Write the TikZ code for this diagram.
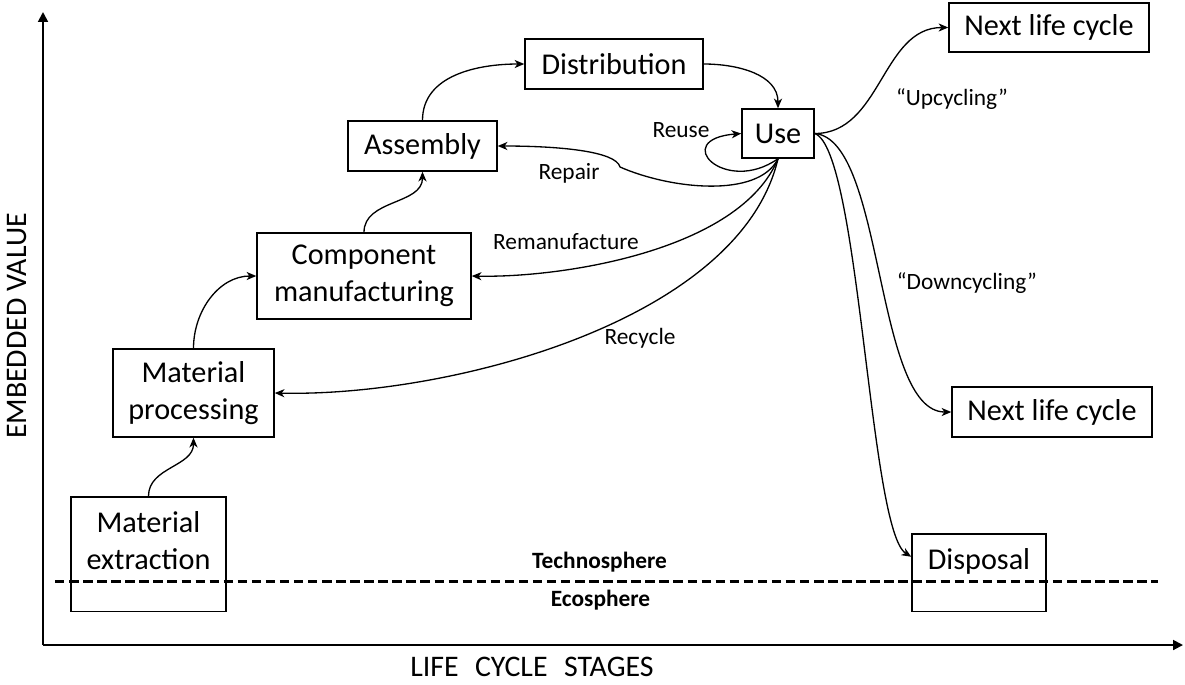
\documentclass[tikz,border=0pt]{standalone}
\usepackage{fontspec}
\setmainfont{Carlito}
\usetikzlibrary{arrows.meta}

\begin{document}
\begin{tikzpicture}[x=0.02cm, y=-0.02cm]
\tikzstyle{every node} = [inner sep=0pt]
\tikzstyle{stage} = [draw, line width=0.85pt, align=center, font=\fontsize{17.2}{21}\selectfont]
\tikzstyle{flow} = [draw, line width=0.75pt, -{Stealth[length=5.5pt, width=4.6pt, inset=1.6pt]}]
\tikzstyle{axis} = [draw, line width=1.1pt, -{Triangle[length=5.6pt, width=5.6pt]}]
\tikzstyle{border} = [draw, line width=1.7pt, dash pattern=on 5.4pt off 2.6pt]
\tikzstyle{note} = [font=\fontsize{13.3}{16}\selectfont]
\tikzstyle{sphere} = [font=\fontsize{13.3}{16}\selectfont\bfseries]
\tikzstyle{big} = [font=\fontsize{17}{21}\selectfont]
\useasboundingbox (0,0) rectangle (1185,684);
\coordinate (o) at (43,645);
\coordinate (ytip) at (43,12);
\coordinate (xtip) at (1183,645);
\coordinate (dl) at (55,581);
\coordinate (dr) at (1158,581);
\node[stage, minimum width=3.1cm, minimum height=2.3cm, text depth=16pt, anchor=north] (ext) at (148.5,496) {Material\\extraction};
\node[stage, minimum width=3.22cm, minimum height=1.76cm] (proc) at (193.5,393) {Material\\processing};
\node[stage, minimum width=4.28cm, minimum height=1.72cm] (comp) at (364,276) {Component\\manufacturing};
\node[stage, minimum width=2.98cm, minimum height=1.0cm] (asm) at (422.5,146) {Assembly};
\node[stage, minimum width=3.56cm, minimum height=1.0cm] (dist) at (614,64) {Distribution};
\node[stage, minimum width=1.44cm, minimum height=0.98cm] (use) at (778,133.5) {Use};
\node[stage, minimum width=4.0cm, minimum height=0.98cm] (nxtup) at (1049,27.5) {Next life cycle};
\node[stage, minimum width=4.0cm, minimum height=1.0cm] (nxtdn) at (1052,412) {Next life cycle};
\node[stage, minimum width=2.68cm, minimum height=1.56cm, text depth=16pt, anchor=north] (disp) at (979,533) {Disposal};
\node[note] (reuse) at (681,130) {Reuse};
\node[note] (repair) at (569,173) {Repair};
\node[note] (reman) at (566,242) {Remanufacture};
\node[note] (recyc) at (640,338) {Recycle};
\node[note] (upc) at (952,99) {“Upcycling”};
\node[note] (downc) at (967,283) {“Downcycling”};
\node[sphere] (techno) at (599.5,562) {Technosphere};
\node[sphere] (eco) at (600.5,600) {Ecosphere};
\node[big, rotate=90] (ylab) at (17,326) {EMBEDDED VALUE};
\node[big] (xlab) at (532,667) {LIFE\hspace{0.55em}CYCLE\hspace{0.55em}STAGES};
\draw[axis] (o) -- (ytip);
\draw[axis] (o) -- (xtip);
\draw[border] (dl) -- (dr);
\draw[flow] (ext.north) to[out=90, in=-90] (proc.south);
\draw[flow] (proc.north) to[out=90, in=180] (comp.west);
\draw[flow] (comp.north) to[out=90, in=-90] (asm.south);
\draw[flow] (asm.north) to[out=90, in=180] (dist.west);
\draw[flow] (dist.east) to[out=0, in=90] (use.north);
\draw[flow] (use.east) to[out=0, in=180] (nxtup.west);
\draw[flow] (use.east) .. controls +(70,6) and +(-77,0) .. (nxtdn.west);
\draw[flow] (use.east) .. controls +(45,16) and +(-42,-26) .. ([yshift=0.32cm]disp.west);
\draw[flow] (use.south) .. controls +(-53,37) and +(-72,6) .. (use.west);
\draw[flow] (use.south) .. controls +(-20,40) and +(50,22) .. (620,167) .. controls +(-4,-16) and +(60,0) .. (asm.east);
\draw[flow] (use.south) .. controls +(-38,92) and +(90,2) .. (comp.east);
\draw[flow] (use.south) .. controls +(-38,162) and +(175,4) .. (proc.east);
\end{tikzpicture}
\end{document}
